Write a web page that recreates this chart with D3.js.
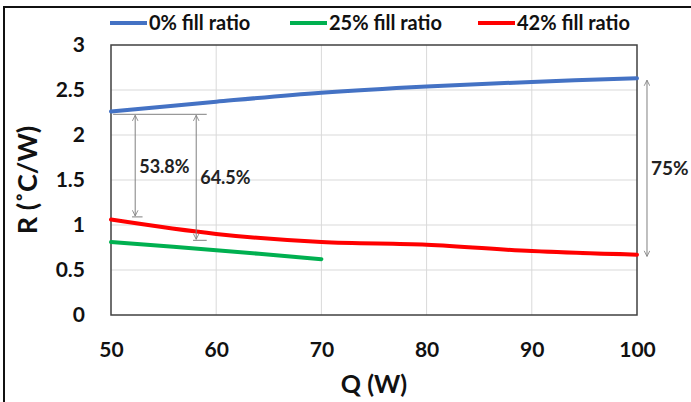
<!DOCTYPE html>
<html>
<head>
<meta charset="utf-8">
<script src="https://cdn.jsdelivr.net/npm/d3@7"></script>
<style>
  html, body { margin: 0; padding: 0; background: #fff; }
  svg { display: block; font-family: Lato, "Open Sans", sans-serif; }
</style>
</head>
<body>
<div id="chart"></div>
<script>
// heat load (W)
const qValues = [50, 60, 70, 80, 90, 100]
// thermal resistance per fill ratio
const r0 = [2.26, 2.37, 2.47, 2.54, 2.59, 2.63]
const q25 = [50, 60, 70]
const r25 = [0.81, 0.72, 0.62]
const r42 = [1.06, 0.90, 0.81, 0.78, 0.71, 0.67]

const seriesNames = ["0% fill ratio", "25% fill ratio", "42% fill ratio"]
const seriesColors = ["#4472c4", "#00b050", "#ff0000"]

const xTicks = [50, 60, 70, 80, 90, 100]
const yTicks = [0, 0.5, 1, 1.5, 2, 2.5, 3]

// reduction arrows: [Q, R top, R bottom, label]
const arrows = [
  { q: 52.3, top: 2.23, bottom: 1.09, label: "53.8%" },
  { q: 58.1, top: 2.23, bottom: 0.83, label: "64.5%" },
  { q: 100.95, top: 2.62, bottom: 0.64, label: "75%" }
]

const width = 691, height = 402
const margin = { top: 45, right: 54, bottom: 87, left: 111 }

const svg = d3.select("#chart").append("svg")
  .attr("width", width)
  .attr("height", height)

const x = d3.scaleLinear().domain([50, 100]).range([margin.left, width - margin.right])
const y = d3.scaleLinear().domain([0, 3]).range([height - margin.bottom, margin.top])

// outer frame (only left & top visible)
svg.append("path")
  .attr("d", `M4,${height + 5} L4,7 L${width + 5},7`)
  .attr("fill", "none")
  .attr("stroke", "#111")
  .attr("stroke-width", 2)

// gridlines
svg.append("g").selectAll("line").data(yTicks.slice(1, -1)).join("line")
  .attr("x1", x(50)).attr("x2", x(100))
  .attr("y1", d => y(d)).attr("y2", d => y(d))
  .attr("stroke", "#d9d9d9").attr("stroke-width", 1)
svg.append("g").selectAll("line").data(xTicks.slice(1, -1)).join("line")
  .attr("x1", d => x(d)).attr("x2", d => x(d))
  .attr("y1", y(0)).attr("y2", y(3))
  .attr("stroke", "#d9d9d9").attr("stroke-width", 1)

// plot border
svg.append("rect")
  .attr("x", x(50)).attr("y", y(3))
  .attr("width", x(100) - x(50)).attr("height", y(0) - y(3))
  .attr("fill", "none").attr("stroke", "#404040").attr("stroke-width", 1.5)

// axes
const xAxis = svg.append("g")
  .attr("transform", `translate(0,${y(0)})`)
  .call(d3.axisBottom(x).tickValues(xTicks).tickSize(0).tickPadding(27))
xAxis.select(".domain").remove()
xAxis.selectAll("text").attr("font-size", 21).attr("font-weight", "bold").attr("fill", "#111")
  .attr("font-family", "Lato, sans-serif")

const yAxis = svg.append("g")
  .attr("transform", `translate(${x(50)},0)`)
  .call(d3.axisLeft(y).tickValues(yTicks).tickFormat(d3.format("~g")).tickSize(0).tickPadding(26))
yAxis.select(".domain").remove()
yAxis.selectAll("text").attr("font-size", 21).attr("font-weight", "bold").attr("fill", "#111")
  .attr("font-family", "Lato, sans-serif")

// axis titles
svg.append("text")
  .attr("x", (x(50) + x(100)) / 2).attr("y", 393)
  .attr("text-anchor", "middle")
  .attr("font-size", 25).attr("font-weight", "bold").attr("fill", "#111")
  .text("Q (W)")
svg.append("text")
  .attr("transform", `translate(37,${(y(0) + y(3)) / 2}) rotate(-90)`)
  .attr("text-anchor", "middle")
  .attr("font-size", 27).attr("font-weight", "bold").attr("fill", "#111")
  .text("R (˚C/W)")

// series lines
const line = d3.line().x(d => x(d[0])).y(d => y(d[1])).curve(d3.curveCatmullRom)
const series = [
  d3.zip(qValues, r0),
  d3.zip(q25, r25),
  d3.zip(qValues, r42)
]
svg.append("g").selectAll("path").data(series).join("path")
  .attr("d", line)
  .attr("fill", "none")
  .attr("stroke", (d, i) => seriesColors[i])
  .attr("stroke-width", 4)
  .attr("stroke-linecap", "round")

// arrow markers
const defs = svg.append("defs")
defs.append("marker")
  .attr("id", "arrowhead")
  .attr("viewBox", "0 0 10 10")
  .attr("refX", 9).attr("refY", 5)
  .attr("markerWidth", 7).attr("markerHeight", 7)
  .attr("orient", "auto-start-reverse")
  .append("path")
  .attr("d", "M1,1 L9,5 L1,9")
  .attr("fill", "none").attr("stroke", "#808080").attr("stroke-width", 1.2)

// horizontal reference lines for the percentage arrows
const refLines = [
  [50.2, 59.1, 2.23],
  [52.0, 53.0, 1.09],
  [57.8, 59.1, 0.83]
]
svg.append("g").selectAll("line").data(refLines).join("line")
  .attr("x1", d => x(d[0])).attr("x2", d => x(d[1]))
  .attr("y1", d => y(d[2])).attr("y2", d => y(d[2]))
  .attr("stroke", "#808080").attr("stroke-width", 1)

svg.append("g").selectAll("line").data(arrows).join("line")
  .attr("x1", d => x(d.q)).attr("x2", d => x(d.q))
  .attr("y1", d => y(d.top) + 1).attr("y2", d => y(d.bottom) - 1)
  .attr("stroke", "#808080").attr("stroke-width", 1)
  .attr("marker-start", "url(#arrowhead)")
  .attr("marker-end", "url(#arrowhead)")

svg.append("g").selectAll("text").data(arrows).join("text")
  .attr("x", d => x(d.q) + 4)
  .attr("y", d => y((d.top + d.bottom) / 2) + 7)
  .attr("font-size", (d, i) => i === 2 ? 19 : 18).attr("font-weight", "bold").attr("fill", "#222")
  .text(d => d.label)

// legend
const legendX = [110, 290, 478]
const legend = svg.append("g").selectAll("g").data(seriesNames).join("g")
  .attr("transform", (d, i) => `translate(${legendX[i]},23)`)
legend.append("line")
  .attr("x1", 0).attr("x2", 37).attr("y1", 0).attr("y2", 0)
  .attr("stroke", (d, i) => seriesColors[i]).attr("stroke-width", 4)
legend.append("text")
  .attr("x", 39).attr("y", 7)
  .attr("font-size", 20).attr("font-weight", "bold").attr("fill", "#111")
  .text(d => d)
</script>
</body>
</html>
